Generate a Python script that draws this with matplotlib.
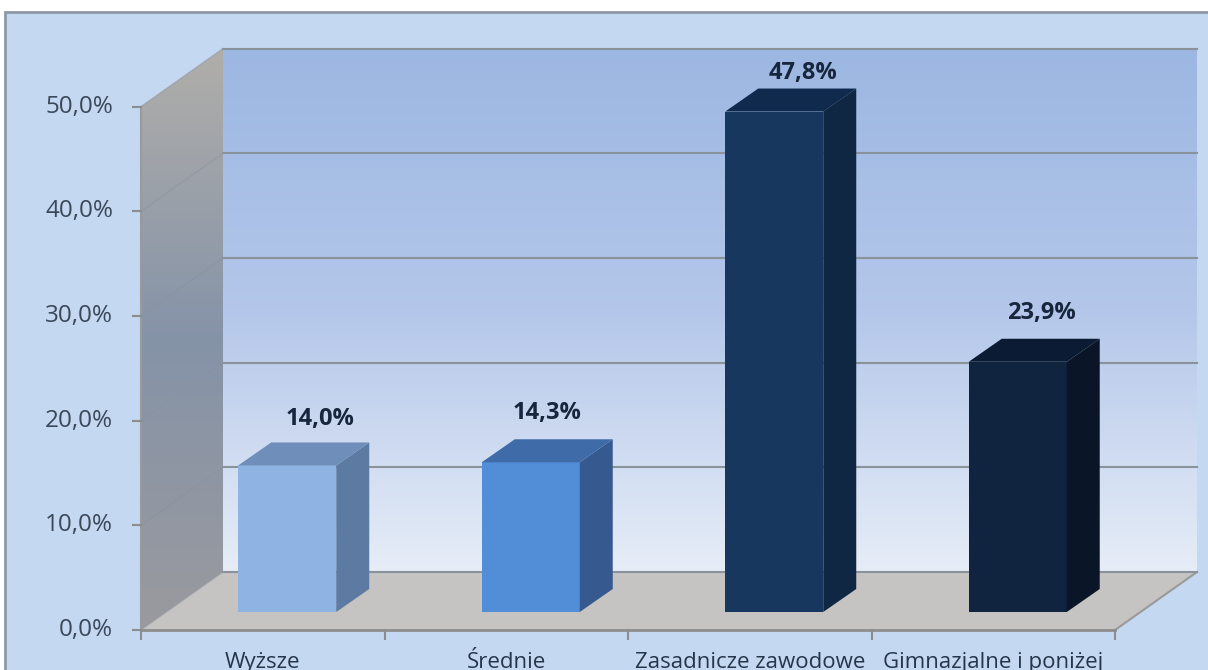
import matplotlib
matplotlib.use('Agg')
import matplotlib.pyplot as plt
from matplotlib.patches import Polygon, Rectangle
from matplotlib.colors import LinearSegmentedColormap
from numpy import array, linspace, newaxis

plt.rcParams['font.family'] = ['Open Sans', 'DejaVu Sans']

categories = ['Wyższe', 'Średnie', 'Zasadnicze zawodowe', 'Gimnazjalne i poniżej']
values = [14.0, 14.3, 47.8, 23.9]
value_labels = ['14,0%', '14,3%', '47,8%', '23,9%']
ticks = [0, 10, 20, 30, 40, 50]
tick_labels = ['0,0%', '10,0%', '20,0%', '30,0%', '40,0%', '50,0%']

front_cols = ['#8fb3e3', '#528dd8', '#17375f', '#10233f']
top_cols = ['#6f8fba', '#3f6ca8', '#0f2a4c', '#0a1b33']
side_cols = ['#5d7aa3', '#365a8f', '#0f2742', '#0a1628']
label_dx = [33, 16, 29, 24]
label_dy = [46, 49, 39, 49]

# pixel scale of the picture
W, H = 1208, 670
x0, x1 = 141, 1115
y0, y50 = 630, 106.5
px_x = (x1 - x0) / 4
px_y = (y0 - y50) / 50
dep_x = 82 / px_x
dep_y = 58 / px_y

fig = plt.figure(figsize=(W / 100, H / 100), dpi=100, facecolor='white')
ax = fig.add_axes([0, 0, 1, 1])
ax.set_xlim(-x0 / px_x, (W - x0) / px_x)
ax.set_ylim(-(H - y0) / px_y, y0 / px_y)
ax.axis('off')

def px(x, y):
    # picture pixels to data units
    return (x - x0) / px_x, (y0 - y) / px_y

def gradient(poly, cols, zorder):
    # vertical gradient clipped on a polygon
    patch = Polygon(poly, closed=True, facecolor='none', edgecolor='none', zorder=zorder)
    ax.add_patch(patch)
    cmap = LinearSegmentedColormap.from_list('g', cols)
    p = array(poly)
    img = ax.imshow(linspace(0, 1, 256)[:, newaxis], cmap=cmap, aspect='auto', zorder=zorder,
                    extent=[p[:, 0].min(), p[:, 0].max(), p[:, 1].min(), p[:, 1].max()], origin='upper')
    img.set_clip_path(patch)

# frame
fx, fy = px(5, 12)
fx2, fy2 = px(1300, 700)
ax.add_patch(Rectangle((fx, fy2), fx2 - fx, fy - fy2, facecolor='#c5d8f1', edgecolor='#8f98a6', lw=2, zorder=1))

# back wall
bl = (dep_x, dep_y)
wall_right = 4 + dep_x
gradient([bl, (wall_right, dep_y), (wall_right, 50 + dep_y), (dep_x, 50 + dep_y)],
         ['#9cb7e2', '#b4c7ea', '#e6edf7'], 2)
# side wall
gradient([(0, 0), bl, (dep_x, 50 + dep_y), (0, 50)],
         ['#b0aeaa', '#8593a8', '#9a9a9e'], 2)
# floor
ax.add_patch(Polygon([(0, 0), bl, (wall_right, dep_y), (4, 0)], closed=True, facecolor='#c6c4c3', edgecolor='none', zorder=3))
ax.plot([4, wall_right], [0, dep_y], color='#9a9a9a', lw=1.5, zorder=3)

# grid
for t in ticks:
    ax.plot([dep_x, wall_right], [t + dep_y, t + dep_y], color='#8a929c', lw=1.5, zorder=3)
    ax.plot([0, dep_x], [t, t + dep_y], color='#8a929c', lw=1, alpha=0.45, zorder=3)

# axes lines and ticks
ax.plot([0, 0], [0, 50], color='#9a9a9a', lw=1.5, zorder=4)
ax.plot([0, 4], [0, 0], color='#8d8d8d', lw=2, zorder=4)
for i in range(5):
    ax.plot([i, i], [0, -9 / px_y], color='#8d8d8d', lw=1.5, zorder=4)
for t, lab in zip(ticks, tick_labels):
    ax.plot([-8 / px_x, 0], [t, t], color='#8d8d8d', lw=1.5, zorder=4)
    ax.annotate(lab, (0, t), xytext=(-28, 0), textcoords='offset pixels', ha='right', va='center',
                fontsize=17.5, color='#3a4859')

# bars
bar_w = 98 / px_x
off_x = 24.5 / px_x
off_y = 18 / px_y
side_x = 33 / px_x
side_y = 23 / px_y
for i, v in enumerate(values):
    c = i + 0.5 + off_x
    left = c - bar_w / 2
    right = c + bar_w / 2
    top = v + off_y
    ax.add_patch(Rectangle((left, off_y), bar_w, v, facecolor=front_cols[i], edgecolor='none', zorder=5))
    ax.add_patch(Polygon([(right, off_y), (right + side_x, off_y + side_y), (right + side_x, top + side_y), (right, top)],
                         closed=True, facecolor=side_cols[i], edgecolor='none', zorder=5))
    ax.add_patch(Polygon([(left, top), (left + side_x, top + side_y), (right + side_x, top + side_y), (right, top)],
                         closed=True, facecolor=top_cols[i], edgecolor='none', zorder=5))
    ax.annotate(value_labels[i], (c, top), xytext=(label_dx[i], label_dy[i]), textcoords='offset pixels',
                ha='center', va='center', fontsize=17, fontweight='bold', color='#17263c', zorder=6)
    ax.annotate(categories[i], (i + 0.5, 0), xytext=(0, -38), textcoords='offset pixels', ha='center', va='baseline',
                fontsize=16, color='#26364a', zorder=6)

fig.savefig('out.png', dpi=100)
